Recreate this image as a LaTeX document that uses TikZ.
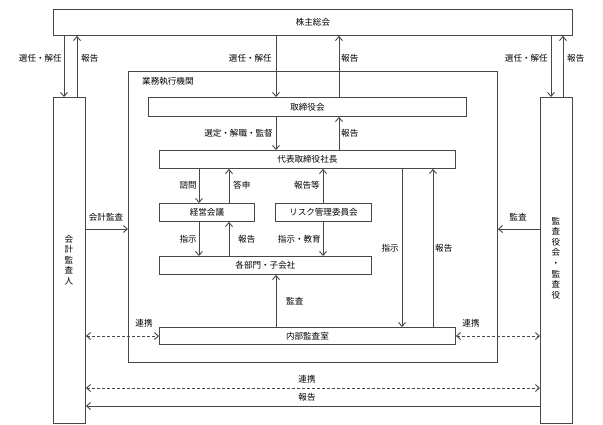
\documentclass[tikz,border=0pt]{standalone}
\usepackage{fontspec}
\setmainfont{Noto Sans CJK JP}
\usetikzlibrary{arrows.meta}
\tikzset{
  ln/.style={draw=black!72, line width=0.9bp},
  box/.style={ln, fill=white, inner sep=0pt, anchor=north west, font=\fontsize{8.6}{10}\selectfont},
  arr/.style={ln, -{Straight Barb[length=4bp,width=7bp]}},
  darr/.style={ln, {Straight Barb[length=4bp,width=7bp]}-{Straight Barb[length=4bp,width=7bp]}, dash pattern=on 3bp off 2bp},
  lbl/.style={inner sep=0pt, font=\fontsize{8.6}{10}\selectfont},
  vtext/.style={inner sep=0pt, font=\fontsize{8.6}{10.6}\selectfont, align=center}
}
\begin{document}
\begin{tikzpicture}[x=1bp,y=-1bp]
\useasboundingbox[fill=white] (0,0) rectangle (603,424);
% frame
\node[box, minimum width=369bp, minimum height=291bp] (frame) at (128,71) {};
\node[lbl, anchor=west] (framelbl) at (142,81) {業務執行機関};
% boxes
\node[box, minimum width=519bp, minimum height=26bp] (kabu) at (53,9) {株主総会};
\node[box, minimum width=32bp, minimum height=326bp] (kaikei) at (53,97) {};
\node[vtext] (kaikeitxt) at (69,260) {会\\計\\監\\査\\人};
\node[box, minimum width=32bp, minimum height=326bp] (kansa) at (540,97) {};
\node[vtext] (kansatxt) at (556,258) {監\\査\\役\\会\\・\\監\\査\\役};
\node[box, minimum width=318bp, minimum height=19bp] (tori) at (148,97) {取締役会};
\node[box, minimum width=296bp, minimum height=18bp] (daihyo) at (159,150) {代表取締役社長};
\node[box, minimum width=95bp, minimum height=18bp] (keiei) at (159,203) {経営会議};
\node[box, minimum width=96bp, minimum height=18bp] (risk) at (275,203) {リスク管理委員会};
\node[box, minimum width=212bp, minimum height=18bp] (bumon) at (159,256) {各部門・子会社};
\node[box, minimum width=296bp, minimum height=17bp] (naibu) at (159,327) {内部監査室};
% x positions
\coordinate (xa) at (64,0);
\coordinate (xb) at (77,0);
\coordinate (xc) at (551,0);
\coordinate (xd) at (563,0);
\coordinate (xe) at (276,0);
\coordinate (xf) at (339,0);
\coordinate (xg) at (199,0);
\coordinate (xh) at (229,0);
\coordinate (xi) at (323,0);
\coordinate (xj) at (402,0);
\coordinate (xk) at (433,0);
\coordinate (ya) at (0,229);
\coordinate (yb) at (0,336);
\coordinate (yc) at (0,388);
\coordinate (yd) at (0,406);
% arrows
\draw[arr] (kabu.south -| xa) -- (kaikei.north -| xa);
\draw[arr] (kaikei.north -| xb) -- (kabu.south -| xb);
\draw[arr] (kabu.south -| xc) -- (kansa.north -| xc);
\draw[arr] (kansa.north -| xd) -- (kabu.south -| xd);
\draw[arr] (kabu.south -| xe) -- (tori.north -| xe);
\draw[arr] (tori.north -| xf) -- (kabu.south -| xf);
\draw[arr] (tori.south -| xe) -- (daihyo.north -| xe);
\draw[arr] (daihyo.north -| xf) -- (tori.south -| xf);
\draw[arr] (daihyo.south -| xg) -- (keiei.north -| xg);
\draw[arr] (keiei.north -| xh) -- (daihyo.south -| xh);
\draw[arr] (risk.north -| xi) -- (daihyo.south -| xi);
\draw[arr] (risk.south -| xi) -- (bumon.north -| xi);
\draw[arr] (keiei.south -| xg) -- (bumon.north -| xg);
\draw[arr] (bumon.north -| xh) -- (keiei.south -| xh);
\draw[arr] (naibu.north -| xe) -- (bumon.south -| xe);
\draw[arr] (daihyo.south -| xj) -- (naibu.north -| xj);
\draw[arr] (naibu.north -| xk) -- (daihyo.south -| xk);
\draw[arr] (kaikei.east |- ya) -- (frame.west |- ya);
\draw[arr] (kansa.west |- ya) -- (frame.east |- ya);
\draw[darr] (kaikei.east |- yb) -- (naibu.west |- yb);
\draw[darr] (naibu.east |- yb) -- (kansa.west |- yb);
\draw[darr] (kaikei.east |- yc) -- (kansa.west |- yc);
\draw[arr] (kansa.west |- yd) -- (kaikei.east |- yd);
% labels
\node[lbl, anchor=east] (l1) at (62,58) {選任・解任};
\node[lbl, anchor=west] (l2) at (81,58) {報告};
\node[lbl, anchor=east] (l3) at (272,58) {選任・解任};
\node[lbl, anchor=west] (l4) at (341,58) {報告};
\node[lbl, anchor=east] (l5) at (548,58) {選任・解任};
\node[lbl, anchor=west] (l6) at (567,58) {報告};
\node[lbl, anchor=east] (l7) at (273,133) {選定・解職・監督};
\node[lbl, anchor=west] (l8) at (341,133) {報告};
\node[lbl, anchor=east] (l9) at (197,185) {諮問};
\node[lbl, anchor=west] (l10) at (233,185) {答申};
\node[lbl, anchor=east] (l11) at (320,185) {報告等};
\node[lbl, anchor=east] (l12) at (197,239) {指示};
\node[lbl, anchor=west] (l13) at (238,239) {報告};
\node[lbl, anchor=east] (l14) at (321,239) {指示・教育};
\node[lbl, anchor=east] (l15) at (399,248) {指示};
\node[lbl, anchor=west] (l16) at (435,248) {報告};
\node[lbl, anchor=west] (l17) at (286,301) {監査};
\node[lbl] (l18) at (106,217) {会計監査};
\node[lbl] (l19) at (518,217) {監査};
\node[lbl] (l20) at (144,323) {連携};
\node[lbl] (l21) at (471,323) {連携};
\node[lbl] (l22) at (307,379) {連携};
\node[lbl] (l23) at (307,397) {報告};
\end{tikzpicture}
\end{document}
